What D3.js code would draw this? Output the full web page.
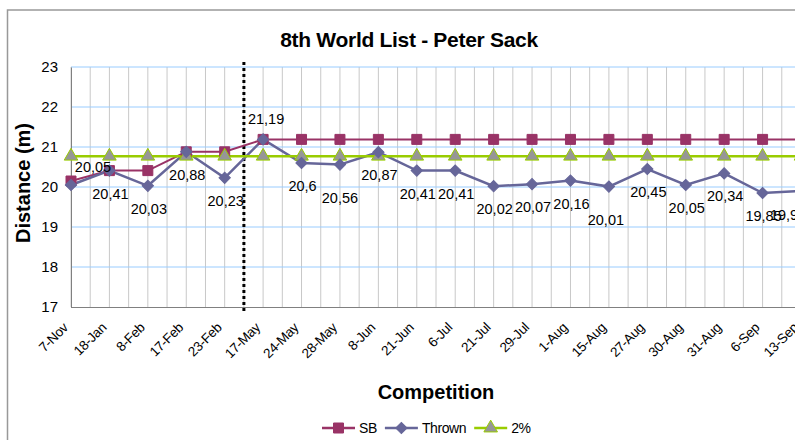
<!DOCTYPE html>
<html>
<head>
<meta charset="utf-8">
<script src="https://cdn.jsdelivr.net/npm/d3@7"></script>
<style>
  body { margin: 0; background: #fff; }
  svg { font-family: "Liberation Sans", Arial, sans-serif; }
</style>
</head>
<body>
<svg width="795" height="440"></svg>
<script>
// data
var competitions = ["7-Nov", "18-Jan", "8-Feb", "17-Feb", "23-Feb", "17-May", "24-May", "28-May", "8-Jun", "21-Jun",
    "6-Jul", "21-Jul", "29-Jul", "1-Aug", "15-Aug", "27-Aug", "30-Aug", "31-Aug", "6-Sep", "13-Sep"];
var sb = [20.15, 20.41, 20.41, 20.88, 20.88, 21.19, 21.19, 21.19, 21.19, 21.19,
    21.19, 21.19, 21.19, 21.19, 21.19, 21.19, 21.19, 21.19, 21.19, 21.19];
var thrown = [20.05, 20.41, 20.03, 20.88, 20.23, 21.19, 20.6, 20.56, 20.87, 20.41,
    20.41, 20.02, 20.07, 20.16, 20.01, 20.45, 20.05, 20.34, 19.85, 19.9];
var twoPct = [20.77, 20.77, 20.77, 20.77, 20.77, 20.77, 20.77, 20.77, 20.77, 20.77,
    20.77, 20.77, 20.77, 20.77, 20.77, 20.77, 20.77, 20.77, 20.77, 20.77];
var yTicks = [17, 18, 19, 20, 21, 22, 23];

var svg = d3.select("svg");

// chart border (right and bottom fall outside the picture)
svg.append("rect")
    .attr("x", 7.5).attr("y", 10).attr("width", 840).attr("height", 460)
    .attr("fill", "none").attr("stroke", "#999").attr("stroke-width", 1.5);

var x = d3.scalePoint().domain(competitions).range([71, 801]);
var y = d3.scaleLinear().domain([17, 23]).range([307, 67]);
var step = x.step();

// vertical gridlines, on categories and half way between
var vgrid = [];
competitions.forEach(function(c, i) {
    vgrid.push(x(c));
    vgrid.push(x(c) + step / 2);
});
svg.append("g").selectAll("line")
    .data(vgrid)
    .enter().append("line")
    .attr("x1", function(d) { return d; }).attr("x2", function(d) { return d; })
    .attr("y1", y(23)).attr("y2", y(17))
    .attr("stroke", "#c8c8c8").attr("stroke-width", 1);

// horizontal gridlines
svg.append("g").selectAll("line")
    .data(yTicks.slice(1))
    .enter().append("line")
    .attr("x1", 71).attr("x2", 830)
    .attr("y1", function(d) { return y(d); }).attr("y2", function(d) { return y(d); })
    .attr("stroke", "#99ccff").attr("stroke-width", 1);

// y axis
var yAxis = d3.axisLeft(y).tickValues(yTicks).tickFormat(d3.format("d")).tickSize(0).tickPadding(13);
var gy = svg.append("g").attr("transform", "translate(71,0)").call(yAxis);
gy.select(".domain").attr("stroke", "#808080");
gy.selectAll("text").attr("font-size", 15).attr("fill", "#000")
    .attr("font-family", "Liberation Sans, Arial, sans-serif");

// x axis
var xAxis = d3.axisBottom(x).tickSize(0).tickPadding(0);
var gx = svg.append("g").attr("transform", "translate(0," + y(17) + ")").call(xAxis);
gx.select(".domain").attr("stroke", "#808080").attr("d", "M71,0.5H830");
gx.selectAll("text")
    .attr("font-size", 13.5).attr("fill", "#000")
    .attr("font-family", "Liberation Sans, Arial, sans-serif")
    .attr("text-anchor", "end")
    .attr("dy", "0.35em")
    .attr("letter-spacing", "-0.3px")
    .attr("transform", "translate(-6,18) rotate(-45)");

// season break marker
svg.append("line")
    .attr("x1", x("23-Feb") + step / 2).attr("x2", x("23-Feb") + step / 2)
    .attr("y1", 62).attr("y2", 311)
    .attr("stroke", "#000").attr("stroke-width", 3).attr("stroke-dasharray", "3,3");

// lines
function drawLine(values, color, width) {
    var line = d3.line()
        .x(function(d, i) { return x(competitions[i]); })
        .y(function(d) { return y(d); });
    svg.append("path")
        .datum(values)
        .attr("d", line)
        .attr("fill", "none")
        .attr("stroke", color)
        .attr("stroke-width", width);
}
drawLine(sb, "#993366", 2);
drawLine(thrown, "#666699", 2.5);
drawLine(twoPct, "#99cc00", 2.5);

var square = d3.symbol().type(d3.symbolSquare).size(100);
var diamond = d3.symbol().type(d3.symbolSquare).size(64);
var triangle = d3.symbol().type(d3.symbolTriangle).size(80);

function drawMarkers(values, sym, fill, stroke, rot) {
    svg.append("g").selectAll("path")
        .data(values)
        .enter().append("path")
        .attr("d", sym)
        .attr("transform", function(d, i) {
            return "translate(" + x(competitions[i]) + "," + y(d) + ") rotate(" + (rot || 0) + ")";
        })
        .attr("fill", fill)
        .attr("stroke", stroke)
        .attr("stroke-width", 1);
}
drawMarkers(sb, square, "#993366", "#993366");
drawMarkers(twoPct, triangle, "#969696", "#99cc00");
drawMarkers(thrown, diamond, "#666699", "#666699", 45);

// data labels on the thrown series
var labelShift = { 0: [22, -18], 5: [3, -20], 7: [0, 33], 14: [-3, 33], 19: [-17, 24] };
svg.append("g").selectAll("text")
    .data(thrown)
    .enter().append("text")
    .attr("x", function(d, i) { return x(competitions[i]) + (labelShift[i] ? labelShift[i][0] : 1); })
    .attr("y", function(d, i) { return y(d) + (labelShift[i] ? labelShift[i][1] : 23); })
    .attr("dy", "0.35em")
    .attr("text-anchor", "middle")
    .attr("font-size", 14.5)
    .text(function(d) { return String(d).replace(".", ","); });

// titles
svg.append("text")
    .attr("x", 409).attr("y", 47)
    .attr("text-anchor", "middle")
    .attr("font-size", 21).attr("font-weight", "bold")
    .attr("letter-spacing", "-0.3px")
    .text("8th World List - Peter Sack");

svg.append("text")
    .attr("transform", "translate(30,183) rotate(-90)")
    .attr("text-anchor", "middle")
    .attr("font-size", 20).attr("font-weight", "bold")
    .text("Distance (m)");

svg.append("text")
    .attr("x", 436).attr("y", 399)
    .attr("text-anchor", "middle")
    .attr("font-size", 20).attr("font-weight", "bold")
    .text("Competition");

// legend
var legendItems = [
    { name: "SB", color: "#993366", sym: square, fill: "#993366", rot: 0 },
    { name: "Thrown", color: "#666699", sym: diamond, fill: "#666699", rot: 45 },
    { name: "2%", color: "#99cc00", sym: triangle, fill: "#969696", rot: 0 }
];
var lx = 322, ly = 428;
legendItems.forEach(function(it) {
    var g = svg.append("g").attr("transform", "translate(" + lx + "," + ly + ")");
    g.append("line").attr("x1", 0).attr("x2", 33).attr("y1", 0).attr("y2", 0)
        .attr("stroke", it.color).attr("stroke-width", 2.5);
    g.append("path").attr("d", it.sym).attr("transform", "translate(16.5,0) rotate(" + it.rot + ")")
        .attr("fill", it.fill).attr("stroke", it.color);
    var t = g.append("text").attr("x", 37).attr("dy", "0.35em")
        .attr("font-size", 14).attr("letter-spacing", "-0.4px").text(it.name);
    lx += 37 + t.node().getComputedTextLength() + 8;
});
</script>
</body>
</html>
